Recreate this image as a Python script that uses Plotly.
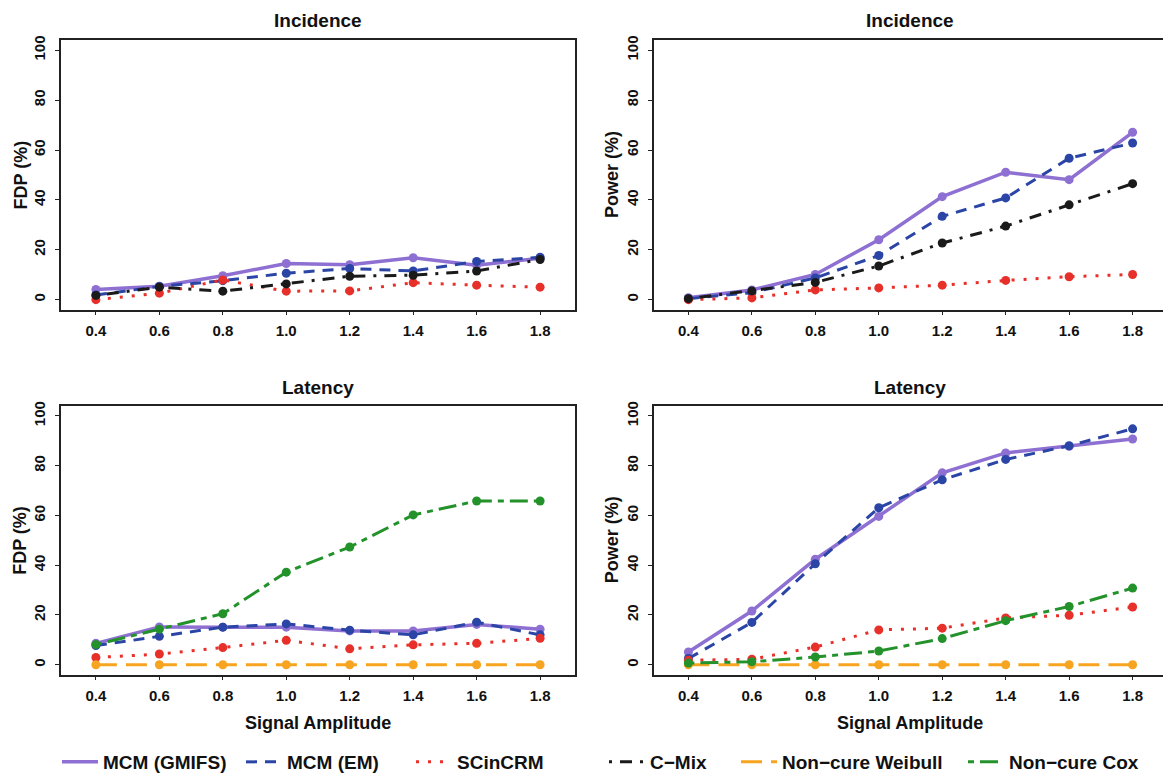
import plotly.graph_objects as go

amp = [0.4, 0.6, 0.8, 1.0, 1.2, 1.4, 1.6, 1.8]
x_ticks = [0.4, 0.6, 0.8, 1.0, 1.2, 1.4, 1.6, 1.8]
x_tick_text = ["0.4", "0.6", "0.8", "1.0", "1.2", "1.4", "1.6", "1.8"]
y_ticks = [0, 20, 40, 60, 80, 100]

methods = ["MCM (GMIFS)", "MCM (EM)", "SCinCRM", "C\u2212Mix", "Non\u2212cure Weibull", "Non\u2212cure Cox"]
colors = ["#8E6FD2", "#2B45A6", "#E8302B", "#1A1A1A", "#F7A420", "#23922B"]
dashes = ["solid", "11px,8px", "3px,9px", "3px,8px,12px,8px", "21px,9px", "6px,6px,18px,6px"]

# Incidence FDP (%)
inc_fdp = {
    "MCM (GMIFS)": [4.1, 5.4, 9.6, 14.5, 14.0, 16.8, 13.8, 16.6],
    "MCM (EM)": [1.9, 5.3, 7.6, 10.6, 12.5, 11.5, 15.3, 17.0],
    "SCinCRM": [0.0, 2.6, 7.9, 3.4, 3.5, 6.8, 5.8, 5.0],
    "C\u2212Mix": [1.7, 5.0, 3.4, 6.3, 9.4, 9.8, 11.5, 16.1],
}
# Incidence Power (%)
inc_pow = {
    "MCM (GMIFS)": [0.8, 3.9, 10.1, 24.0, 41.3, 51.1, 48.1, 67.1],
    "MCM (EM)": [0.4, 2.8, 8.7, 17.7, 33.4, 40.8, 56.7, 62.8],
    "SCinCRM": [0.0, 0.7, 3.9, 4.7, 5.8, 7.7, 9.2, 10.1],
    "C\u2212Mix": [0.4, 3.5, 6.9, 13.5, 22.7, 29.5, 38.0, 46.5],
}
# Latency FDP (%)
lat_fdp = {
    "MCM (GMIFS)": [8.6, 15.2, 15.1, 15.1, 13.6, 13.6, 16.2, 14.3],
    "MCM (EM)": [7.7, 11.4, 15.1, 16.4, 13.9, 12.0, 17.1, 12.0],
    "SCinCRM": [2.9, 4.3, 6.9, 9.8, 6.4, 8.0, 8.6, 10.6],
    "Non\u2212cure Weibull": [0, 0, 0, 0, 0, 0, 0, 0],
    "Non\u2212cure Cox": [8.1, 14.3, 20.5, 37.2, 47.3, 60.2, 65.8, 65.8],
}
# Latency Power (%)
lat_pow = {
    "MCM (GMIFS)": [5.1, 21.6, 42.4, 59.6, 77.1, 85.1, 87.8, 90.7],
    "MCM (EM)": [2.5, 17.0, 40.6, 63.1, 74.3, 82.5, 88.0, 94.8],
    "SCinCRM": [1.8, 2.2, 7.1, 14.0, 14.7, 18.8, 19.9, 23.2],
    "Non\u2212cure Weibull": [0, 0, 0, 0, 0, 0, 0, 0],
    "Non\u2212cure Cox": [0.7, 1.2, 3.1, 5.5, 10.5, 17.7, 23.4, 30.8],
}

W, H = 1163, 781
FONT = "Liberation Sans, Arial, Helvetica, sans-serif"

fig = go.Figure()

panels = [
    (inc_fdp, "x", "y"),
    (inc_pow, "x2", "y2"),
    (lat_fdp, "x3", "y3"),
    (lat_pow, "x4", "y4"),
]
for data, xa, ya in panels:
    for i, m in enumerate(methods):
        if m not in data:
            continue
        fig.add_trace(go.Scatter(
            x=amp, y=data[m], xaxis=xa, yaxis=ya, mode="lines+markers",
            line=dict(color=colors[i], width=3.5 if i == 0 else 3, dash=dashes[i]),
            marker=dict(color=colors[i], size=9),
            showlegend=False, hoverinfo="skip", cliponaxis=False,
        ))

# legend-only entries, one legend each so they can be placed like the original
legend_x = [57, 241, 411, 604, 736, 963]
for i, m in enumerate(methods):
    lg = "legend" if i == 0 else f"legend{i+1}"
    fig.add_trace(go.Scatter(
        x=[None], y=[None], xaxis="x", yaxis="y", mode="lines", name=m,
        line=dict(color=colors[i], width=3.5 if i == 0 else 3, dash=dashes[i]),
        showlegend=True, legend=lg,
    ))

def px_x(p):
    return p / W

def px_y(p):
    return 1 - p / H

top_dom = [px_y(311), px_y(36)]
bot_dom = [px_y(683.7), px_y(409.3)]
left_dom = [px_x(61), px_x(575)]
right_dom = [px_x(653.5), 1.0]
x_range_left = [0.29, 1.91]
x_range_right = [0.29, 0.29 + (W - 653.5) / (514 / 1.62)]

axis_common = dict(
    showline=True, linecolor="#222222", linewidth=1.5, showgrid=False,
    zeroline=False, ticks="outside", ticklen=4, tickwidth=1.2, tickcolor="#222222",
    tickfont=dict(family=FONT, size=15, color="#111111", weight="bold"),
)

layout = dict(
    width=W, height=H, margin=dict(l=0, r=0, t=0, b=0),
    paper_bgcolor="white", plot_bgcolor="white",
)
specs = [
    ("xaxis", "yaxis", "y", "x", left_dom, top_dom, x_range_left, True),
    ("xaxis2", "yaxis2", "y2", "x2", right_dom, top_dom, x_range_right, False),
    ("xaxis3", "yaxis3", "y3", "x3", left_dom, bot_dom, x_range_left, True),
    ("xaxis4", "yaxis4", "y4", "x4", right_dom, bot_dom, x_range_right, False),
]
for xk, yk, anc_y, anc_x, xd, yd, xr, ymirror in specs:
    layout[xk] = dict(axis_common, domain=xd, range=xr, anchor=anc_y, mirror=True,
                      tickvals=x_ticks, ticktext=x_tick_text, ticklabelstandoff=3)
    layout[yk] = dict(axis_common, domain=yd, range=[-4, 104], anchor=anc_x, mirror=ymirror,
                      tickvals=y_ticks, tickangle=-90, ticklabelstandoff=4)

for i in range(6):
    lg = "legend" if i == 0 else f"legend{i+1}"
    layout[lg] = dict(
        x=px_x(legend_x[i]), y=px_y(773), xanchor="left", yanchor="middle",
        orientation="h", bgcolor="rgba(0,0,0,0)", borderwidth=0,
        itemwidth=36, font=dict(family=FONT, size=19, color="#111111", weight="bold"),
        tracegroupgap=0, itemclick=False, itemdoubleclick=False,
    )

fig.update_layout(**layout)

ann_font_title = dict(family=FONT, size=19, color="#111111", weight="bold")
ann_font_axis = dict(family=FONT, size=18, color="#111111", weight="bold")
annotations = []
for cx, cy, txt in [(318, 16, "Incidence"), (910, 16, "Incidence"),
                    (318, 390, "Latency"), (910, 390, "Latency")]:
    annotations.append(dict(x=px_x(cx), y=px_y(cy), xref="paper", yref="paper", text=txt,
                            showarrow=False, font=ann_font_title, xanchor="center", yanchor="middle"))
for cx, cy, txt in [(20.5, 173.5, "FDP (%)"), (612, 173.5, "Power (%)"),
                    (20.5, 546.5, "FDP (%)"), (612, 546.5, "Power (%)")]:
    annotations.append(dict(x=px_x(cx), y=px_y(cy), xref="paper", yref="paper", text=txt,
                            showarrow=False, font=ann_font_axis, textangle=-90,
                            xanchor="center", yanchor="middle"))
for cx, cy in [(318, 733), (910, 733)]:
    annotations.append(dict(x=px_x(cx), y=px_y(cy), xref="paper", yref="paper",
                            text="Signal Amplitude", showarrow=False, font=ann_font_axis,
                            xanchor="center", yanchor="middle"))
fig.update_layout(annotations=annotations)

fig.write_html("out.html")
